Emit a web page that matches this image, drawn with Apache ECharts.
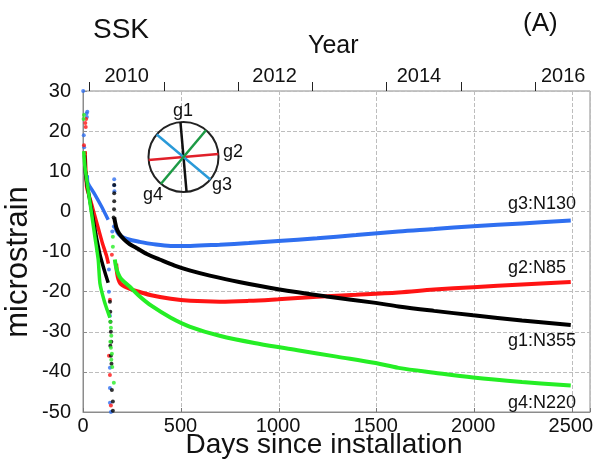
<!DOCTYPE html>
<html>
<head>
<meta charset="utf-8">
<script src="https://cdn.jsdelivr.net/npm/echarts@6/dist/echarts.min.js"></script>
<style>
  html, body { margin: 0; padding: 0; background: #fff; }
  #wrap { position: relative; width: 596px; height: 471px; }
  #frame, #chart, #notes { position: absolute; left: 0; top: 0; width: 596px; height: 471px; }
  #chart, #notes { pointer-events: none; }
</style>
</head>
<body>
<div id="wrap">
  <div id="frame"></div>
  <div id="chart"></div>
  <div id="notes"></div>
</div>
<script>
// Strain gauge records at SSK, [days since installation, microstrain]

// g1 (N355)
const g1Early = [[8,14],[12,10],[18,7.5],[27,5],[45,0],[65,-5.5],[87,-10.8],[108,-14.5],[129,-17.8]];
const g1Dots = [[10,14.5],[15,9.6],[160,6.6],[160,4.5],[160,2.5],[159,0.5],[157,-1.5],
  [138,-22.5],[140,-25],[141,-27.5],[143,-30],[145,-32.5],[140,-33.5],[143,-36],[146,-38],
  [148,-44.5],[153,-47.4],[153,-49.7]];
const g1Main = [[160,-1.5],[165,-2.8],[172,-4.2],[185,-5.5],[210,-7],[240,-8.2],[274,-9.1],
  [330,-10.7],[393,-12],[470,-13.5],[546,-14.7],[650,-16],[800,-17.6],[1000,-19.4],
  [1250,-21.2],[1500,-22.8],[1617,-23.7],[1800,-24.8],[2000,-25.9],[2250,-27.2],[2500,-28.3]];

// g2 (N85)
const g2Early = [[10,15],[14,11],[19,6],[40,2.5],[60,-1],[80,-4.5],[100,-8],[120,-11],[130,-13]];
const g2Dots = [[12,22],[14,21],[16,23],[5,16.5],[148,-10.8],[138,-22],[133,-36],[138,-40.8],[143,-48.4]];
const g2Main = [[170,-13],[175,-15.5],[182,-17],[192,-18],[215,-18.8],[250,-19.5],[291,-20.1],
  [350,-20.9],[450,-21.8],[550,-22.3],[700,-22.5],[850,-22.3],[1000,-21.9],[1200,-21.3],
  [1400,-20.8],[1617,-20.2],[1800,-19.5],[2000,-18.9],[2250,-18.2],[2500,-17.6]];

// g3 (N130)
const g3Early = [[22,9],[25,7.1],[61,4.2],[95,1.2],[129,-2.1]];
const g3Dots = [[1,30],[18,24.4],[20,23.5],[22,24.8],[4,19],[6,16],[160,8],[160,6.5],[161,5],
  [158,-3.8],[150,-5],[133,-14.5],[133,-20],[138,-26],[138,-39],[138,-44],[138,-47.7],[143,-50]];
const g3Main = [[163,-3.5],[172,-4.8],[185,-5.8],[210,-6.6],[250,-7.2],[291,-7.6],[350,-8.1],
  [450,-8.6],[550,-8.6],[700,-8.3],[850,-7.9],[1000,-7.4],[1200,-6.7],[1400,-5.9],[1617,-5.0],
  [1800,-4.4],[2000,-3.7],[2250,-3.0],[2500,-2.3]];

// g4 (N220)
const g4Early = [[4,15],[8,12],[19,7.9],[40,0.8],[60,-6],[78,-12],[87,-18],[110,-22.5],[138,-26.5]];
const g4Dots = [[5,24],[3,23],[10,11.6],[153,-6.3],[153,-8.8],[140,-27.5],[143,-29],[145,-31],
  [140,-32.5],[143,-34],[148,-35.5],[145,-37],[150,-38.8],[158,-42.7]];
const g4Main = [[163,-12],[170,-14],[180,-15.5],[195,-16.8],[240,-18.8],[291,-21.2],[350,-23.5],
  [450,-26.5],[546,-28.7],[700,-31],[900,-33],[1100,-34.6],[1300,-36.2],[1500,-37.8],
  [1617,-39],[1800,-40.2],[2000,-41.4],[2250,-42.5],[2500,-43.4]];

// Gauge orientations (azimuth, degrees from north) and end labels
const gaugeNames = ['g1', 'g2', 'g3', 'g4'];
const azimuths = [355, 85, 130, 220];
const endLabels = ['g1:N355', 'g2:N85', 'g3:N130', 'g4:N220'];

// Axis ticks
const xStep = 500;
const yStep = 10;
const yearTicks = [2010, 2011, 2012, 2013, 2014, 2015, 2016];
const yearLabels = [2010, 2012, 2014, 2016];

const FONT = "'Liberation Sans', Arial, Helvetica, sans-serif";
const colors = { g1: '#000000', g2: '#ff1414', g3: '#2f6ff0', g4: '#25ee25' };
const insetColors = { g1: '#111111', g2: '#e0202a', g3: '#2a9ad8', g4: '#1d9a45' };

const GRID = { left: 83, right: 6, top: 91, bottom: 59 };
const DAY_MAX = 2590, YEAR_MIN = 2009.91, YEAR_MAX = 2016.74;

// Back layer: plot frame, dashed grid and tick marks
echarts.init(document.getElementById('frame')).setOption({
  animation: false,
  grid: Object.assign({ show: true, borderColor: '#8c8c8c', borderWidth: 1 }, GRID),
  xAxis: [{
    type: 'value', min: 0, max: DAY_MAX, interval: xStep, position: 'bottom',
    axisLine: { show: true, onZero: false, lineStyle: { color: '#8c8c8c' } },
    axisTick: { show: true, inside: true, length: 4, lineStyle: { color: '#777' } },
    axisLabel: { show: false },
    splitLine: { show: true, lineStyle: { color: '#bdbdbd', type: 'dashed', width: 1 } }
  }, {
    type: 'value', min: YEAR_MIN, max: YEAR_MAX, position: 'top',
    axisLine: { show: false, onZero: false },
    axisTick: { show: true, inside: false, length: 9, customValues: yearTicks, lineStyle: { color: '#222' } },
    axisLabel: { show: false },
    splitLine: { show: false }
  }],
  yAxis: {
    type: 'value', min: -50, max: 30, interval: yStep,
    axisLine: { show: true, onZero: false, lineStyle: { color: '#8c8c8c' } },
    axisTick: { show: true, inside: true, length: 4 },
    axisLabel: { show: false },
    splitLine: { show: true, lineStyle: { color: '#bdbdbd', type: 'dashed', width: 1 } }
  },
  series: [{ type: 'line', data: [], showSymbol: false, xAxisIndex: 0, yAxisIndex: 0 }]
});

function lineSeries(data, color, width, smooth) {
  return {
    type: 'line', data: data, showSymbol: false, smooth: smooth,
    lineStyle: { color: color, width: width }, itemStyle: { color: color },
    xAxisIndex: 0, yAxisIndex: 0
  };
}
function dotSeries(data, color) {
  return {
    type: 'scatter', data: data, symbol: 'circle', symbolSize: 4,
    itemStyle: { color: color }, xAxisIndex: 0, yAxisIndex: 0
  };
}

// Data layer: tick labels and gauge records
echarts.init(document.getElementById('chart')).setOption({
  animation: false,
  grid: Object.assign({ show: false }, GRID),
  xAxis: [{
    type: 'value', min: 0, max: DAY_MAX, interval: xStep, position: 'bottom',
    axisLine: { show: false, onZero: false }, axisTick: { show: false }, splitLine: { show: false },
    axisLabel: { fontSize: 20, fontFamily: FONT, color: '#111', margin: 4, showMaxLabel: false,
      formatter: v => String(v) }
  }, {
    type: 'value', min: YEAR_MIN, max: YEAR_MAX, position: 'top',
    axisLine: { show: false, onZero: false }, axisTick: { show: false }, splitLine: { show: false },
    axisLabel: { fontSize: 20, fontFamily: FONT, color: '#111', margin: 5,
      customValues: yearLabels.map((y, i) => y + [0.5, 0.5, 0.45, 0.4][i]),
      formatter: v => String(Math.floor(v)) }
  }],
  yAxis: {
    type: 'value', min: -50, max: 30, interval: yStep,
    axisLine: { show: false, onZero: false }, axisTick: { show: false }, splitLine: { show: false },
    axisLabel: { fontSize: 20, fontFamily: FONT, color: '#111', margin: 12 }
  },
  series: [
    lineSeries(g3Early, colors.g3, 3.5, 0.2),
    lineSeries(g2Early, colors.g2, 3.5, 0.2),
    lineSeries(g1Early, colors.g1, 3.5, 0.2),
    lineSeries(g4Early, colors.g4, 3.5, 0.2),
    dotSeries(g3Dots, colors.g3),
    dotSeries(g2Dots, colors.g2),
    dotSeries(g1Dots, colors.g1),
    dotSeries(g4Dots, colors.g4),
    lineSeries(g3Main, colors.g3, 4, 0.35),
    lineSeries(g2Main, colors.g2, 4, 0.35),
    lineSeries(g4Main, colors.g4, 4, 0.35),
    lineSeries(g1Main, colors.g1, 4, 0.35)
  ]
});

// Top layer: titles, end labels and the gauge orientation diagram
const cx = 183.5, cy = 157, r = 35;
const els = [{
  type: 'circle', shape: { cx: cx, cy: cy, r: r },
  style: { fill: null, stroke: '#222', lineWidth: 2 }
}];
const labelPos = { g1: [183, 111, 'center'], g2: [223, 152, 'left'], g3: [212, 185, 'left'], g4: [163, 195, 'right'] };
gaugeNames.forEach((g, i) => {
  const a = azimuths[i] * Math.PI / 180;
  const dx = Math.sin(a) * r, dy = -Math.cos(a) * r;
  els.push({
    type: 'line', shape: { x1: cx - dx, y1: cy - dy, x2: cx + dx, y2: cy + dy },
    style: { stroke: insetColors[g], lineWidth: 2.5 }
  });
  const p = labelPos[g];
  els.push({
    type: 'text', x: p[0], y: p[1],
    style: { text: g, font: '18px ' + FONT, fill: '#111', align: p[2], verticalAlign: 'middle' }
  });
});
const endPos = [[508, 341], [508, 268], [508, 204], [508, 403]];
endLabels.forEach((t, i) => els.push({
  type: 'text', x: endPos[i][0], y: endPos[i][1],
  style: { text: t, font: '18px ' + FONT, fill: '#111', align: 'left', verticalAlign: 'middle' }
}));
els.push(
  { type: 'text', x: 93, y: 30, style: { text: 'SSK', font: '28px ' + FONT, fill: '#111', verticalAlign: 'middle' } },
  { type: 'text', x: 523, y: 24, style: { text: '(A)', font: '26px ' + FONT, fill: '#111', verticalAlign: 'middle' } },
  { type: 'text', x: 308, y: 46, style: { text: 'Year', font: '25px ' + FONT, fill: '#111', verticalAlign: 'middle' } },
  { type: 'text', x: 324, y: 445, style: { text: 'Days since installation', font: '28px ' + FONT, fill: '#111', align: 'center', verticalAlign: 'middle' } },
  { type: 'text', x: 18, y: 262, rotation: Math.PI / 2, style: { text: 'microstrain', font: '31px ' + FONT, fill: '#111', align: 'center', verticalAlign: 'middle' } }
);
echarts.init(document.getElementById('notes')).setOption({ animation: false, graphic: { elements: els } });
</script>
</body>
</html>
